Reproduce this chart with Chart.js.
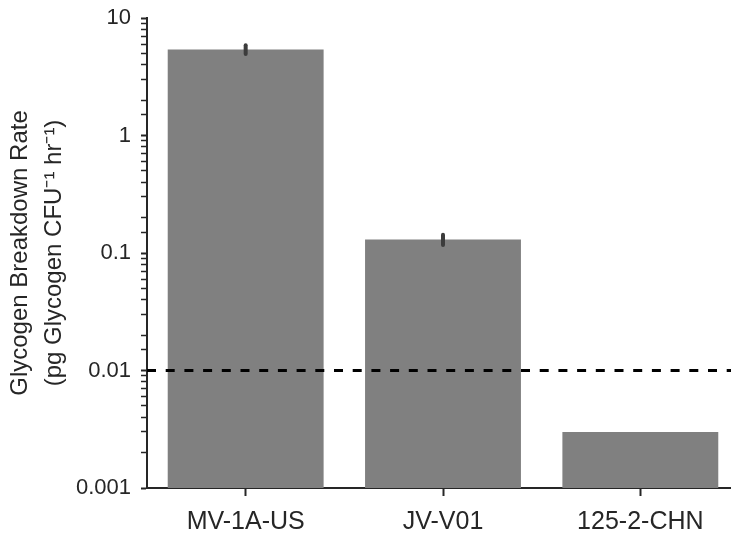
<!DOCTYPE html>
<html lang="en">
<head>
  <meta charset="UTF-8">
  <title>Glycogen Breakdown Rate</title>
  <script src="https://cdn.jsdelivr.net/npm/chart.js"></script>
  <style>
    html, body {
      margin: 0;
      padding: 0;
      background: #fff;
      overflow: hidden;
    }
    .wrap {
      width: 740px;
      height: 537px;
    }
  </style>
</head>
<body>
  <div class="wrap">
    <canvas id="chartRate"></canvas>
  </div>

  <script>
    const categories = ['MV-1A-US', 'JV-V01', '125-2-CHN'];
    const rates = [5.4, 0.13, 0.003];
    const rateErrors = [0.45, 0.013, 0];
    const detectionLimit = 0.01;
    const yTicks = [0.001, 0.01, 0.1, 1, 10];

    const axisColor = '#262626';
    const fontFamily = "'Liberation Sans', Arial, Helvetica, sans-serif";

    // error bars drawn on top of each bar, through the y scale
    const errorBars = {
      id: 'errorBars',
      afterDatasetsDraw(chart) {
        const meta = chart.getDatasetMeta(0);
        const y = chart.scales.y;
        const ctx = chart.ctx;
        ctx.save();
        ctx.strokeStyle = '#3c3c3c';
        ctx.lineWidth = 4;
        ctx.lineCap = 'round';
        meta.data.forEach((bar, i) => {
          const e = rateErrors[i];
          if (!e) return;
          ctx.beginPath();
          ctx.moveTo(bar.x, y.getPixelForValue(rates[i] + e));
          ctx.lineTo(bar.x, y.getPixelForValue(rates[i] - e));
          ctx.stroke();
        });
        ctx.restore();
      }
    };

    // dashed limit line across the whole plot
    const limitLine = {
      id: 'limitLine',
      afterDatasetsDraw(chart) {
        const area = chart.chartArea;
        const yPix = chart.scales.y.getPixelForValue(detectionLimit);
        const ctx = chart.ctx;
        ctx.save();
        ctx.strokeStyle = '#000';
        ctx.lineWidth = 3;
        ctx.setLineDash([9, 9.7]);
        ctx.beginPath();
        ctx.moveTo(area.left, yPix);
        ctx.lineTo(area.right, yPix);
        ctx.stroke();
        ctx.restore();
      }
    };

    new Chart(document.getElementById('chartRate'), {
      type: 'bar',
      data: {
        labels: categories,
        datasets: [{
          data: rates,
          backgroundColor: '#808080',
          borderWidth: 0,
          barPercentage: 0.79,
          categoryPercentage: 1
        }]
      },
      plugins: [errorBars, limitLine],
      options: {
        responsive: true,
        maintainAspectRatio: false,
        animation: false,
        layout: { padding: { top: 18, right: 1, bottom: 0, left: 0 } },
        plugins: {
          legend: { display: false },
          tooltip: { enabled: false }
        },
        scales: {
          x: {
            offset: true,
            grid: {
              offset: false,
              drawOnChartArea: false,
              tickLength: 8,
              tickColor: axisColor,
              tickWidth: 2
            },
            border: { display: true, color: axisColor, width: 2 },
            ticks: {
              color: axisColor,
              padding: 11,
              maxRotation: 0,
              font: { family: fontFamily, size: 25 }
            },
            afterFit(scale) {
              scale.height = 49;
              scale.paddingLeft = 0;
              scale.paddingRight = 0;
            }
          },
          y: {
            type: 'logarithmic',
            min: yTicks[0],
            max: yTicks[yTicks.length - 1],
            grid: {
              drawOnChartArea: false,
              tickLength: 6,
              tickColor: axisColor,
              tickWidth: ctx => (ctx.tick && ctx.tick.major ? 2 : 1.5)
            },
            border: { display: true, color: axisColor, width: 2 },
            ticks: {
              autoSkip: false,
              color: axisColor,
              padding: 10,
              font: { family: fontFamily, size: 22 },
              callback(value) {
                const v = Number(value);
                return yTicks.some(t => Math.abs(t - v) / t < 1e-6) ? String(Number(v.toPrecision(1))) : '';
              }
            },
            title: {
              display: true,
              text: ['Glycogen Breakdown Rate', '(pg Glycogen CFU\u207B\u00B9 hr\u207B\u00B9)'],
              color: axisColor,
              padding: { top: 4, bottom: 0 },
              font: { family: fontFamily, size: 24, lineHeight: 1.4 }
            },
            afterFit(scale) {
              scale.width = 147;
              scale.paddingTop = 0;
              scale.paddingBottom = 0;
            }
          }
        }
      }
    });
  </script>
</body>
</html>
